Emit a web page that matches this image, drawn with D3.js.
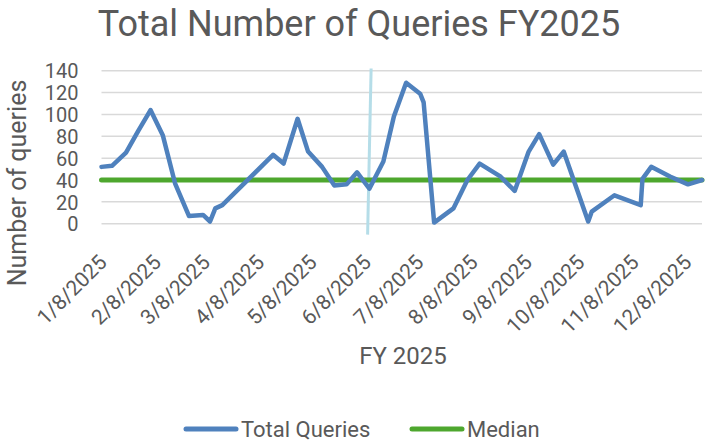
<!DOCTYPE html>
<html>
<head>
<meta charset="utf-8">
<script src="https://cdn.jsdelivr.net/npm/d3@7"></script>
<style>
  body { margin: 0; background: #fff; }
  text { font-family: Roboto, "Open Sans", sans-serif; fill: #595959; }
</style>
</head>
<body>
<svg id="chart"></svg>
<script>
// data
var queryDates = ["2025-01-08","2025-01-14","2025-01-22","2025-01-29","2025-02-05","2025-02-12","2025-02-19","2025-02-27",
	"2025-03-07","2025-03-11","2025-03-14","2025-03-18","2025-04-16","2025-04-22","2025-04-30","2025-05-06","2025-05-14",
	"2025-05-21","2025-05-28","2025-06-03","2025-06-10","2025-06-18","2025-06-24","2025-07-01","2025-07-09","2025-07-11",
	"2025-07-17","2025-07-28","2025-08-05","2025-08-12","2025-08-24","2025-09-01","2025-09-09","2025-09-15","2025-09-23",
	"2025-09-29","2025-10-13","2025-10-15","2025-10-28","2025-11-12","2025-11-13","2025-11-18","2025-11-29","2025-12-09",
	"2025-12-17"];
var totalQueries = [52, 53, 65, 85, 104, 81, 37, 7,
	8, 2, 14, 17, 63, 55, 96, 66, 52,
	35, 36, 47, 32, 57, 98, 129, 119, 111,
	1, 14, 40, 55, 43, 30, 66, 82, 54,
	66, 2, 11, 26, 17, 41, 52, 43, 36,
	40];
var medianValue = 40;
var tickDates = ["2025-01-08","2025-02-08","2025-03-08","2025-04-08","2025-05-08","2025-06-08",
	"2025-07-08","2025-08-08","2025-09-08","2025-10-08","2025-11-08","2025-12-08"];
var yTicks = [0, 20, 40, 60, 80, 100, 120, 140];
// hand drawn marker line: [top, bottom]
var markerDates = ["2025-06-11", "2025-06-09"];
var markerValues = [142, -10];

var width = 705, height = 443;
var parse = d3.timeParse("%Y-%m-%d");
var fmt = d3.timeFormat("%-m/%-d/%Y");

var data = queryDates.map(function(d, i) { return {date: parse(d), value: totalQueries[i]}; });

var svg = d3.select("#chart").attr("width", width).attr("height", height);

var x = d3.scaleTime()
	.domain([parse(queryDates[0]), parse(queryDates[queryDates.length - 1])])
	.range([101.5, 702]);
var y = d3.scaleLinear().domain([0, 140]).range([223.7, 70.7]);

// title
svg.append("text")
	.attr("x", 359).attr("y", 36)
	.attr("text-anchor", "middle")
	.style("font-size", "36px")
	.text("Total Number of Queries FY2025");

// gridlines
svg.append("g").selectAll("line")
	.data(yTicks)
	.enter().append("line")
	.attr("x1", x.range()[0]).attr("x2", x.range()[1])
	.attr("y1", d => y(d)).attr("y2", d => y(d))
	.attr("stroke", "#d9d9d9").attr("stroke-width", 1.5);

// y axis labels
var yAxis = svg.append("g")
	.attr("transform", "translate(" + (x.range()[0] - 23) + ",0)")
	.call(d3.axisLeft(y).tickValues(yTicks).tickSize(0).tickPadding(0));
yAxis.select(".domain").remove();
yAxis.selectAll("text").style("font-size", "20px").attr("dy", "0.36em").attr("fill", "#595959");

svg.append("text")
	.attr("transform", "translate(26,183) rotate(-90)")
	.attr("text-anchor", "middle")
	.style("font-size", "25px")
	.text("Number of queries");

// x axis labels
var xAxis = svg.append("g")
	.attr("transform", "translate(0," + y(0) + ")")
	.call(d3.axisBottom(x).tickValues(tickDates.map(parse)).tickFormat(fmt).tickSize(0));
xAxis.select(".domain").remove();
xAxis.selectAll("text")
	.style("font-size", "21px")
	.attr("fill", "#595959")
	.attr("text-anchor", "end")
	.attr("dy", null)
	.attr("y", 0)
	.attr("transform", "translate(6,40) rotate(-45)");

svg.append("text")
	.attr("x", 403).attr("y", 364)
	.attr("text-anchor", "middle")
	.style("font-size", "24px")
	.text("FY 2025");

// marker line
svg.append("line")
	.attr("x1", x(parse(markerDates[0]))).attr("y1", y(markerValues[0]))
	.attr("x2", x(parse(markerDates[1]))).attr("y2", y(markerValues[1]))
	.attr("stroke", "#b5dde8").attr("stroke-width", 3);

// median
svg.append("line")
	.attr("x1", x.range()[0]).attr("x2", x.range()[1])
	.attr("y1", y(medianValue)).attr("y2", y(medianValue))
	.attr("stroke", "#4ea72e").attr("stroke-width", 5).attr("stroke-linecap", "round");

// total queries
var line = d3.line().x(d => x(d.date)).y(d => y(d.value));
svg.append("path")
	.datum(data)
	.attr("d", line)
	.attr("fill", "none")
	.attr("stroke", "#4f81bd")
	.attr("stroke-width", 4.5)
	.attr("stroke-linejoin", "round")
	.attr("stroke-linecap", "round");

// legend
var legend = [{name: "Total Queries", color: "#4f81bd", x: 186}, {name: "Median", color: "#4ea72e", x: 412}];
var lg = svg.append("g").selectAll("g").data(legend).enter().append("g")
	.attr("transform", d => "translate(" + d.x + ",429)");
lg.append("line").attr("x1", 0).attr("x2", 50)
	.attr("stroke", d => d.color).attr("stroke-width", 5).attr("stroke-linecap", "round");
lg.append("text").attr("x", 55).attr("dy", "0.35em")
	.style("font-size", "22px")
	.text(d => d.name);
</script>
</body>
</html>
